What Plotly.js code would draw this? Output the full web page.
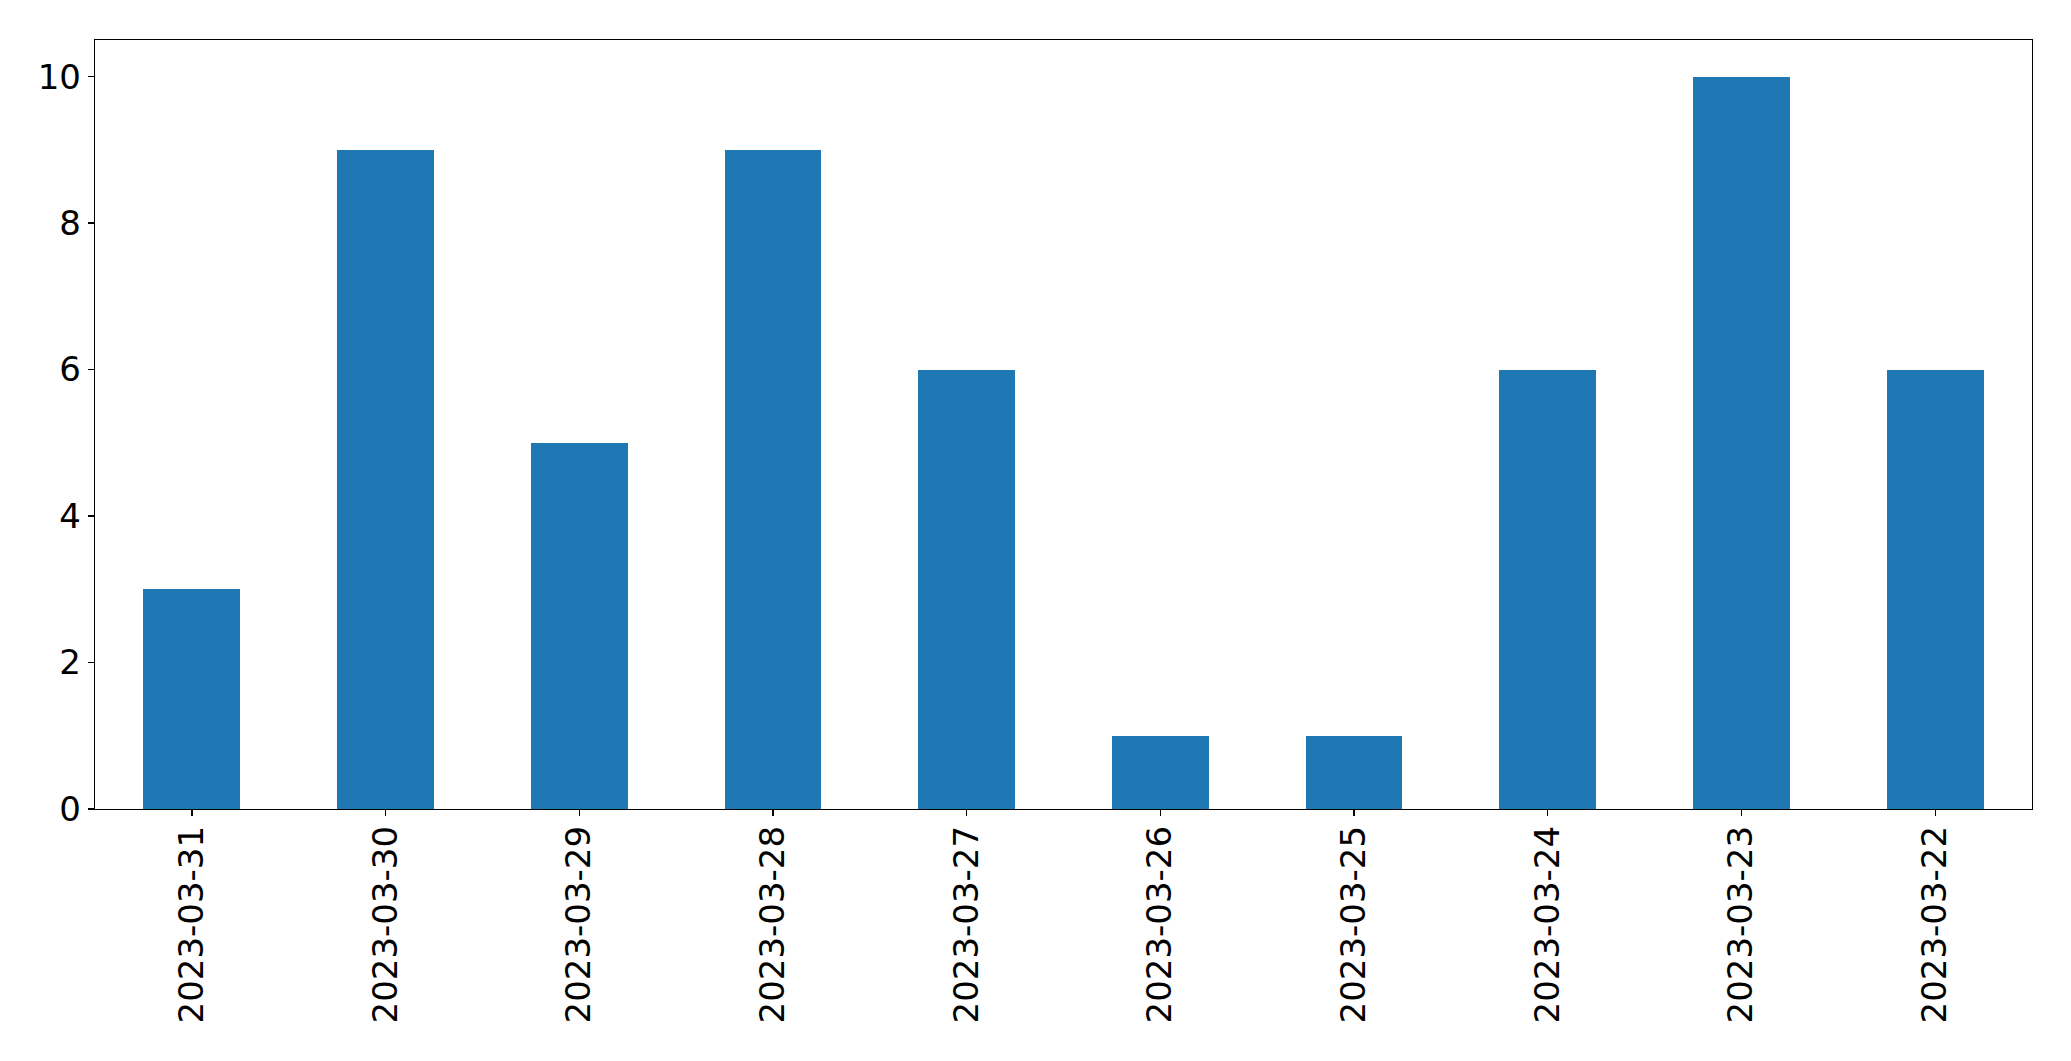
<!DOCTYPE html>
<html>
<head>
<meta charset="utf-8">
<script src="https://cdn.plot.ly/plotly-3.0.1.min.js"></script>
<style>html,body{margin:0;padding:0;background:#fff;}#chart{width:2071px;height:1061px;}</style>
</head>
<body>
<div id="chart"></div>
<script>
const dates = ["2023-03-31","2023-03-30","2023-03-29","2023-03-28","2023-03-27","2023-03-26","2023-03-25","2023-03-24","2023-03-23","2023-03-22"];
const counts = [3, 9, 5, 9, 6, 1, 1, 6, 10, 6];
const yTicks = [0, 2, 4, 6, 8, 10];

const trace = {
  type: 'bar',
  x: dates,
  y: counts,
  width: 0.5,
  marker: {color: '#1f77b4', line: {width: 0}},
  hoverinfo: 'x+y'
};

const font = {family: 'DejaVu Sans, sans-serif', size: 34, color: '#000'};

const layout = {
  width: 2071,
  height: 1061,
  margin: {l: 95, r: 39, t: 40, b: 252, pad: 0},
  paper_bgcolor: '#fff',
  plot_bgcolor: '#fff',
  showlegend: false,
  bargap: 0,
  xaxis: {
    type: 'category',
    range: [-0.5, 9.5],
    tickangle: -90,
    ticks: 'outside',
    ticklen: 6,
    tickwidth: 1.3,
    tickcolor: '#000',
    ticklabelstandoff: -4,
    showline: true,
    linecolor: '#000',
    linewidth: 1.3,
    mirror: true,
    showgrid: false,
    zeroline: false,
    tickfont: font,
    automargin: false
  },
  yaxis: {
    range: [0, 10.5],
    tickvals: yTicks,
    ticktext: yTicks.map(String),
    ticks: 'outside',
    ticklen: 6,
    tickwidth: 1.3,
    tickcolor: '#000',
    showline: true,
    linecolor: '#000',
    linewidth: 1.3,
    mirror: true,
    showgrid: false,
    zeroline: false,
    tickfont: font,
    automargin: false
  }
};

Plotly.newPlot('chart', [trace], layout, {staticPlot: true, displayModeBar: false});
</script>
</body>
</html>
